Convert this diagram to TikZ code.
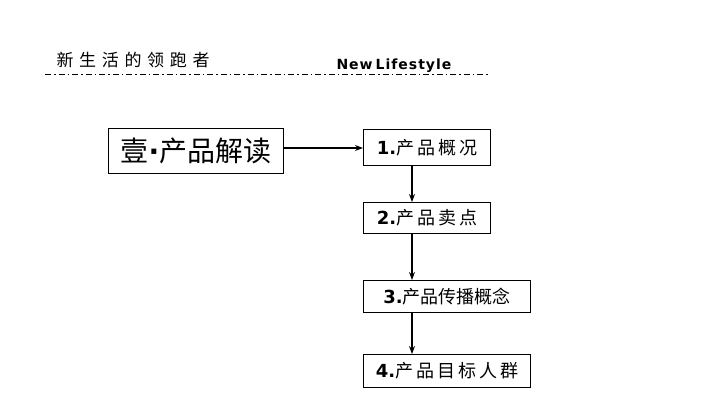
\documentclass[tikz,border=0pt]{standalone}
\usepackage{fontspec}
\newfontfamily\cjk{Noto Sans CJK SC}
\setsansfont{DejaVu Sans}
\usetikzlibrary{arrows.meta}
\begin{document}
\begin{tikzpicture}[x=1pt,y=-1pt,
  bx/.style={draw,line width=1pt,inner sep=0pt,anchor=north west},
  arr/.style={-{Stealth[length=8pt,width=6pt]},line width=1.2pt}]
\useasboundingbox (0,0) rectangle (707,400);
\node[anchor=west,font=\cjk\fontsize{17}{17}\selectfont] (hd) at (53,60) {新\,\,生\,\,活\,\,的\,\,领\,\,跑\,\,者};
\node[anchor=west,font=\sffamily\bfseries\fontsize{14}{14}\selectfont] (en) at (333,66) {N\kern1pt e\kern1pt w\kern3pt L\kern1pt i\kern1pt f\kern1pt e\kern1pt s\kern1pt t\kern1pt y\kern1pt l\kern1pt e};
\draw[line width=1pt,dash pattern=on 6pt off 3pt on 1.5pt off 3pt] (45,74) -- (490,74);
\node[bx,minimum width=175pt,minimum height=45pt,font=\cjk\fontsize{28}{28}\selectfont] (m) at (108,128) {壹{\sffamily\bfseries·}产品解读};
\node[bx,minimum width=127pt,minimum height=36pt,font=\cjk\fontsize{18}{18}\selectfont] (b1) at (363,129) {\textbf{\sffamily 1.}产\,品\,概\,况};
\node[bx,minimum width=127pt,minimum height=31pt,font=\cjk\fontsize{18}{18}\selectfont] (b2) at (363,202) {\textbf{\sffamily 2.}产\,品\,卖\,点};
\node[bx,minimum width=167pt,minimum height=32pt,font=\cjk\fontsize{18}{18}\selectfont] (b3) at (363,280) {\textbf{\sffamily 3.}产品传播概念};
\node[bx,minimum width=167pt,minimum height=33pt,font=\cjk\fontsize{18}{18}\selectfont] (b4) at (363,354) {\textbf{\sffamily 4.}产\,品\,目\,标\,人\,群};
\draw[arr] (m.east|-0,148) -- (b1.west|-0,148);
\draw[arr] (b1.south-|412,0) -- (b2.north-|412,0);
\draw[arr] (b2.south-|412,0) -- (b3.north-|412,0);
\draw[arr] (b3.south-|412,0) -- (b4.north-|412,0);
\end{tikzpicture}
\end{document}
